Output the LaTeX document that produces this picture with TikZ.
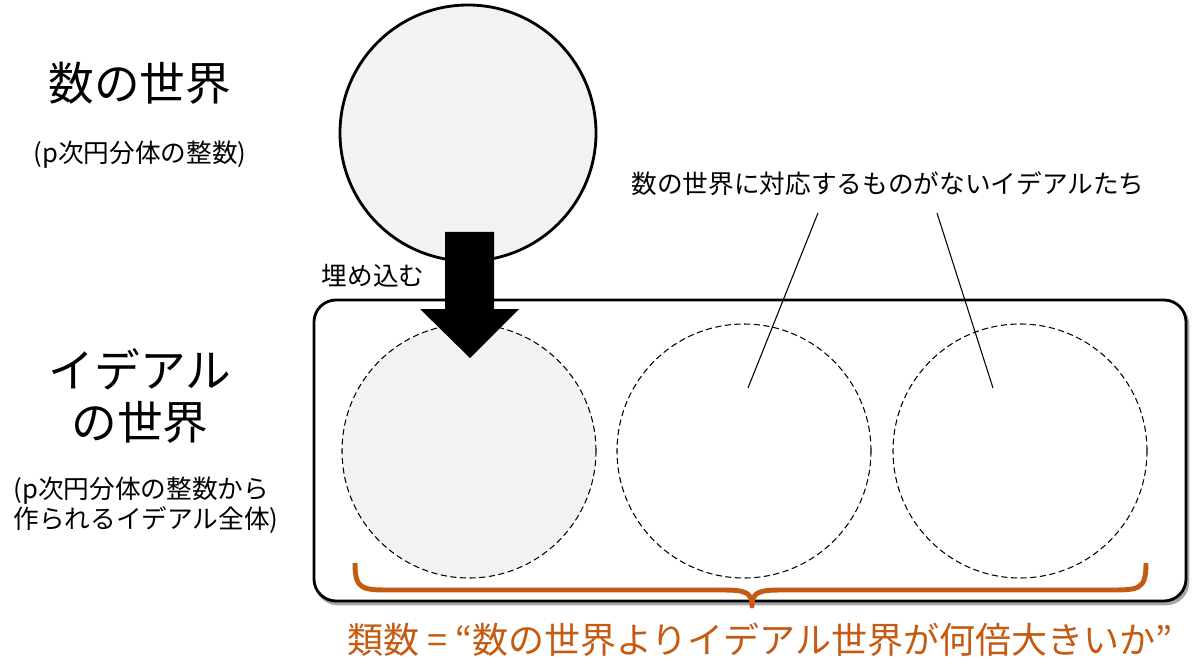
\documentclass[tikz,border=0pt]{standalone}
\usepackage{fontspec}
\setmainfont{Noto Sans CJK JP}
\definecolor{orng}{HTML}{C55A11}
\definecolor{lgray}{HTML}{F2F2F2}
\tikzset{
  big/.style={font=\fontsize{26}{29.5}\selectfont, align=center},
  small/.style={font=\fontsize{14.6}{17}\selectfont, align=center},
  dcirc/.style={circle, draw, dashed, dash pattern=on 3.5pt off 2pt, line width=0.6pt, minimum size=254*0.02cm, inner sep=0pt},
  thin line/.style={line width=0.6pt},
}
\begin{document}
\begin{tikzpicture}[x=0.02cm, y=-0.02cm]
\useasboundingbox (0,0) rectangle (1200,672);
% container with light shadow
\draw[rounded corners=22*0.02cm, line width=1.5pt, draw=black!35, fill=black!35] (316,303) rectangle (1188,604);
\draw[rounded corners=22*0.02cm, line width=1.6pt, fill=white] (314,300) rectangle (1186,601);
% dashed circles
\node[dcirc, fill=lgray] (c1) at (469,451) {};
\node[dcirc] (c2) at (744,451) {};
\node[dcirc] (c3) at (1020,451) {};
% top circle
\node[circle, draw, line width=1.6pt, fill=lgray, minimum size=256*0.02cm, inner sep=0pt] (top) at (468,133) {};
% big arrow
\fill (445,232) -- (494,232) -- (494,309) -- (519,309) -- (470,358) -- (420,309) -- (445,309) -- cycle;
% texts
\node[big] (t1) at (140,83) {数の世界};
\node[small] (t2) at (140,155) {(p次円分体の整数)};
\node[big] (t3) at (140,396) {イデアル\\の世界};
\node[small, align=left] (t4) at (146,505) {(p次円分体の整数から\\作られるイデアル全体)};
\node[small] (emb) at (373,276) {埋め込む};
\node[small] (lab) at (888,184) {数の世界に対応するものがないイデアルたち};
\coordinate (l1s) at (818,213);
\coordinate (l2s) at (937,213);
\coordinate (l1e) at (748,388);
\coordinate (l2e) at (993,388);
\draw[thin line] (l1s) -- (l1e);
\draw[thin line] (l2s) -- (l2e);
% brace
\coordinate (bl) at (355,563);
\coordinate (br) at (1146,563);
\coordinate (tip) at (752,606);
\draw[orng, line width=2.8pt, line join=round]
  (bl) .. controls (355,590) and (362,590) .. (392,590) -- (722,590)
  .. controls (745,590) and (752,592) .. (tip)
  .. controls (752,592) and (759,590) .. (782,590) -- (1109,590)
  .. controls (1139,590) and (1146,590) .. (br);
\node[font=\fontsize{20.5}{24}\selectfont, text=orng] (cls) at (760,640) {類数 = “数の世界よりイデアル世界が何倍大きいか”};
\end{tikzpicture}
\end{document}
